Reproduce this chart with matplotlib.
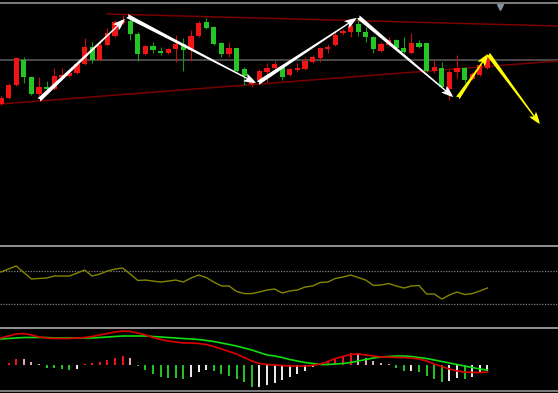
import numpy as np
import matplotlib
matplotlib.use("Agg")
import matplotlib.pyplot as plt
from matplotlib.lines import Line2D

# ---------------- data ----------------
opens = [13.46, 13.52, 13.65, 13.90, 13.73, 13.56, 13.63, 13.61, 13.73, 13.74,
         13.77, 13.86, 14.03, 13.90, 14.05, 14.14, 14.27, 14.29, 14.16, 13.96,
         14.04, 13.99, 13.97, 14.01, 14.06, 14.00, 14.14, 14.28, 14.23, 14.07,
         13.96, 14.02, 13.81, 13.66, 13.70, 13.78, 13.82, 13.83, 13.75, 13.80,
         13.81, 13.88, 13.92, 14.01, 14.05, 14.17, 14.18, 14.26, 14.18, 14.13,
         13.99, 14.05, 14.10, 14.02, 13.97, 14.07, 14.07, 13.79, 13.82, 13.61,
         13.78, 13.82, 13.71, 13.75, 13.82]
highs = [13.54, 13.67, 13.93, 13.93, 13.74, 13.73, 13.69, 13.82, 13.82, 13.80,
         13.87, 14.12, 14.08, 14.10, 14.22, 14.30, 14.35, 14.32, 14.18, 14.05,
         14.08, 14.03, 14.02, 14.15, 14.12, 14.20, 14.29, 14.32, 14.24, 14.08,
         14.08, 14.02, 13.83, 13.72, 13.81, 13.87, 13.89, 13.85, 13.82, 13.87,
         13.93, 13.95, 14.03, 14.06, 14.18, 14.21, 14.27, 14.31, 14.23, 14.14,
         14.08, 14.13, 14.11, 14.13, 14.17, 14.10, 14.07, 13.90, 13.88, 13.80,
         13.95, 13.83, 13.78, 13.87, 13.95]
lows = [13.45, 13.51, 13.64, 13.67, 13.55, 13.53, 13.57, 13.60, 13.72, 13.73,
        13.76, 13.85, 13.87, 13.89, 14.04, 14.13, 14.26, 14.10, 13.89, 13.95,
        13.97, 13.95, 13.96, 13.88, 13.79, 13.89, 14.13, 14.21, 14.05, 13.93,
        13.93, 13.78, 13.65, 13.63, 13.69, 13.68, 13.80, 13.70, 13.74, 13.78,
        13.80, 13.87, 13.88, 13.97, 14.04, 14.15, 14.13, 14.14, 14.08, 13.97,
        13.98, 14.04, 14.01, 13.97, 13.96, 14.02, 13.78, 13.77, 13.62, 13.50,
        13.72, 13.67, 13.70, 13.74, 13.81]
closes = [13.52, 13.65, 13.92, 13.73, 13.56, 13.63, 13.61, 13.74, 13.75, 13.77,
          13.86, 14.03, 13.90, 14.05, 14.17, 14.28, 14.29, 14.16, 13.96, 14.04,
          14.00, 13.97, 14.01, 14.06, 14.00, 14.14, 14.27, 14.22, 14.06, 13.96,
          14.02, 13.79, 13.74, 13.70, 13.79, 13.82, 13.86, 13.73, 13.81, 13.82,
          13.89, 13.93, 14.02, 14.02, 14.15, 14.18, 14.24, 14.18, 14.13, 14.01,
          14.06, 14.10, 14.02, 13.98, 14.07, 14.03, 13.79, 13.83, 13.63, 13.78,
          13.82, 13.70, 13.76, 13.85, 13.92]

rsi = [69.3, 73, 76.6, 68.7, 60.8, 61.4, 62, 64.4, 64.4, 64.4,
       68, 71.7, 64.4, 66.8, 70.5, 72.9, 74.1, 66.8, 59, 59.5,
       58.3, 57.1, 58.3, 59.5, 57.1, 62, 65.6, 62.6, 57.1, 52.3,
       52.3, 45.6, 43.1, 43, 45, 47.4, 48.6, 43.7, 46.2, 47.4,
       51, 52.3, 56.5, 57.1, 61.4, 63.2, 65.6, 62.6, 59.5, 52.9,
       53.5, 55.3, 52.3, 49.8, 52.3, 52.9, 42.5, 42.5, 36.4, 41.3,
       45, 41.9, 43, 46.2, 49.8]
rsi_levels = [70, 30]

dif = [0.270, 0.290, 0.310, 0.315, 0.300, 0.280, 0.270, 0.265, 0.265, 0.265,
       0.270, 0.275, 0.285, 0.300, 0.315, 0.330, 0.340, 0.335, 0.320, 0.300,
       0.275, 0.255, 0.240, 0.230, 0.220, 0.220, 0.215, 0.205, 0.185, 0.160,
       0.135, 0.110, 0.075, 0.040, 0.015, 0.005, 0.000, -0.005, -0.010, -0.010,
       -0.010, -0.005, 0.010, 0.035, 0.065, 0.085, 0.105, 0.110, 0.100, 0.090,
       0.080, 0.080, 0.075, 0.075, 0.070, 0.060, 0.040, 0.010, -0.015, -0.040,
       -0.060, -0.070, -0.075, -0.075, -0.070]
dea = [0.260, 0.265, 0.270, 0.275, 0.275, 0.275, 0.275, 0.270, 0.270, 0.270,
       0.270, 0.270, 0.270, 0.275, 0.280, 0.285, 0.290, 0.290, 0.290, 0.290,
       0.285, 0.280, 0.275, 0.270, 0.265, 0.260, 0.255, 0.245, 0.235, 0.220,
       0.205, 0.190, 0.170, 0.150, 0.125, 0.100, 0.090, 0.075, 0.055, 0.040,
       0.025, 0.015, 0.005, 0.005, 0.010, 0.015, 0.025, 0.040, 0.055, 0.070,
       0.080, 0.085, 0.090, 0.090, 0.085, 0.075, 0.065, 0.050, 0.035, 0.020,
       0.005, -0.010, -0.025, -0.040, -0.050]
hist = [0.000, 0.017, 0.065, 0.063, 0.030, 0.007, -0.028, -0.032, -0.040, -0.048,
        -0.038, 0.006, 0.017, 0.032, 0.050, 0.075, 0.094, 0.067, -0.010, -0.050,
        -0.088, -0.115, -0.125, -0.130, -0.135, -0.115, -0.070, -0.053, -0.063, -0.085,
        -0.110, -0.138, -0.170, -0.217, -0.215, -0.200, -0.175, -0.150, -0.123, -0.093,
        -0.060, -0.020, 0.017, 0.040, 0.067, 0.093, 0.123, 0.117, 0.067, 0.043,
        0.017, 0.007, -0.033, -0.057, -0.055, -0.067, -0.110, -0.143, -0.167, -0.157,
        -0.130, -0.135, -0.117, -0.083, -0.057]

# trend lines: (index, price) endpoints
upper_trend = [(13.95, 14.36), (73.3, 14.24)]
lower_trend = [(-0.13, 13.46), (73.3, 13.89)]
last_price = 13.90

# drawn arrows (index, price)
white_arrows = [((5.0, 13.50), (16.3, 14.31)),
                ((16.6, 14.34), (33.55, 13.67)),
                ((33.8, 13.67), (46.8, 14.32)),
                ((47.0, 14.33), (59.5, 13.53))]
yellow_arrows = [((60.1, 13.52), (64.1, 13.96)),
                 ((64.1, 13.96), (70.9, 13.26))]

# ---------------- figure ----------------
W, H = 558, 393
fig = plt.figure(figsize=(W / 100, H / 100), dpi=100, facecolor="black")


def add_ax(top_px, bot_px):
    ax = fig.add_axes([0, 1 - bot_px / H, 1, (bot_px - top_px) / H])
    ax.set_facecolor("black")
    for s in ax.spines.values():
        s.set_visible(False)
    ax.set_xticks([])
    ax.set_yticks([])
    ax.set_xlim(-1 / 7.6, 557 / 7.6)
    return ax


n = len(closes)
x = np.arange(n)

# main panel
ax = add_ax(5, 244)
ax.set_ylim(12.06, 14.45)
ax.axhline(last_price, color="#4a4a4a", lw=1.4, zorder=1)
ax.plot([p[0] for p in upper_trend], [p[1] for p in upper_trend], color="#7a0000", lw=1.1, zorder=1)
ax.plot([p[0] for p in lower_trend], [p[1] for p in lower_trend], color="#7a0000", lw=1.1, zorder=1)

o = np.array(opens); c = np.array(closes); hi = np.array(highs); lo = np.array(lows)
up = c >= o
body_col = np.where(up, "#f01515", "#25c525")
wick_col = np.where(up, "#c01010", "#1a9a1a")
ax.vlines(x, lo, hi, colors=wick_col, lw=0.8, zorder=2)
bottoms = np.minimum(o, c)
heights = np.maximum(np.abs(c - o), 0.015)
ax.bar(x, heights, bottom=bottoms, width=0.68, color=body_col, zorder=3, linewidth=0)

astyle = "fancy,head_length=0.8,head_width=0.55,tail_width=0.28"
for (s, e) in white_arrows:
    ax.annotate("", xy=e, xytext=s,
                arrowprops=dict(arrowstyle=astyle, fc="white", ec="none",
                                mutation_scale=11, shrinkA=0, shrinkB=0), zorder=5)
for (s, e) in yellow_arrows:
    ax.annotate("", xy=e, xytext=s,
                arrowprops=dict(arrowstyle=astyle, fc="#ffff00", ec="none",
                                mutation_scale=11, shrinkA=0, shrinkB=0), zorder=5)

ax.plot([65.7], [0.99], marker="v", color="#7f8fa6", markersize=5,
        transform=ax.get_xaxis_transform(), clip_on=False, zorder=6)

# RSI panel
ax2 = add_ax(248, 326)
ax2.set_ylim(3.6, 98.5)
for lv in rsi_levels:
    ax2.axhline(lv, color="#808080", lw=0.9, ls=(0, (1, 1.2)))
ax2.plot(x, rsi, color="#858500", lw=1.0)

# MACD panel
ax3 = add_ax(330, 389)
ax3.set_ylim(-0.24, 0.35)
hcols = []
prev = 0.0
for v in hist:
    if v >= 0:
        hcols.append("#f01515" if v >= prev else "#e0a8b0")
    else:
        hcols.append("#22c022" if v <= prev else "#e8e8e8")
    prev = v
ax3.bar(x, hist, width=0.24, color=hcols, linewidth=0, zorder=2)
ax3.plot(x, dea, color="#10dd10", lw=1.2, zorder=3)
ax3.plot(x, dif, color="#dd0000", lw=1.2, zorder=4)

# separators / borders
for ypx, col, lw in [(2.5, "#7a7a7a", 2.0), (246, "#8e8e8e", 2.0),
                     (328, "#8e8e8e", 2.0), (391, "#7a7a7a", 2.0)]:
    fig.add_artist(Line2D([0, 1], [1 - ypx / H, 1 - ypx / H], transform=fig.transFigure,
                          color=col, lw=lw * 0.72))

fig.savefig("out.png", dpi=100, facecolor="black")
